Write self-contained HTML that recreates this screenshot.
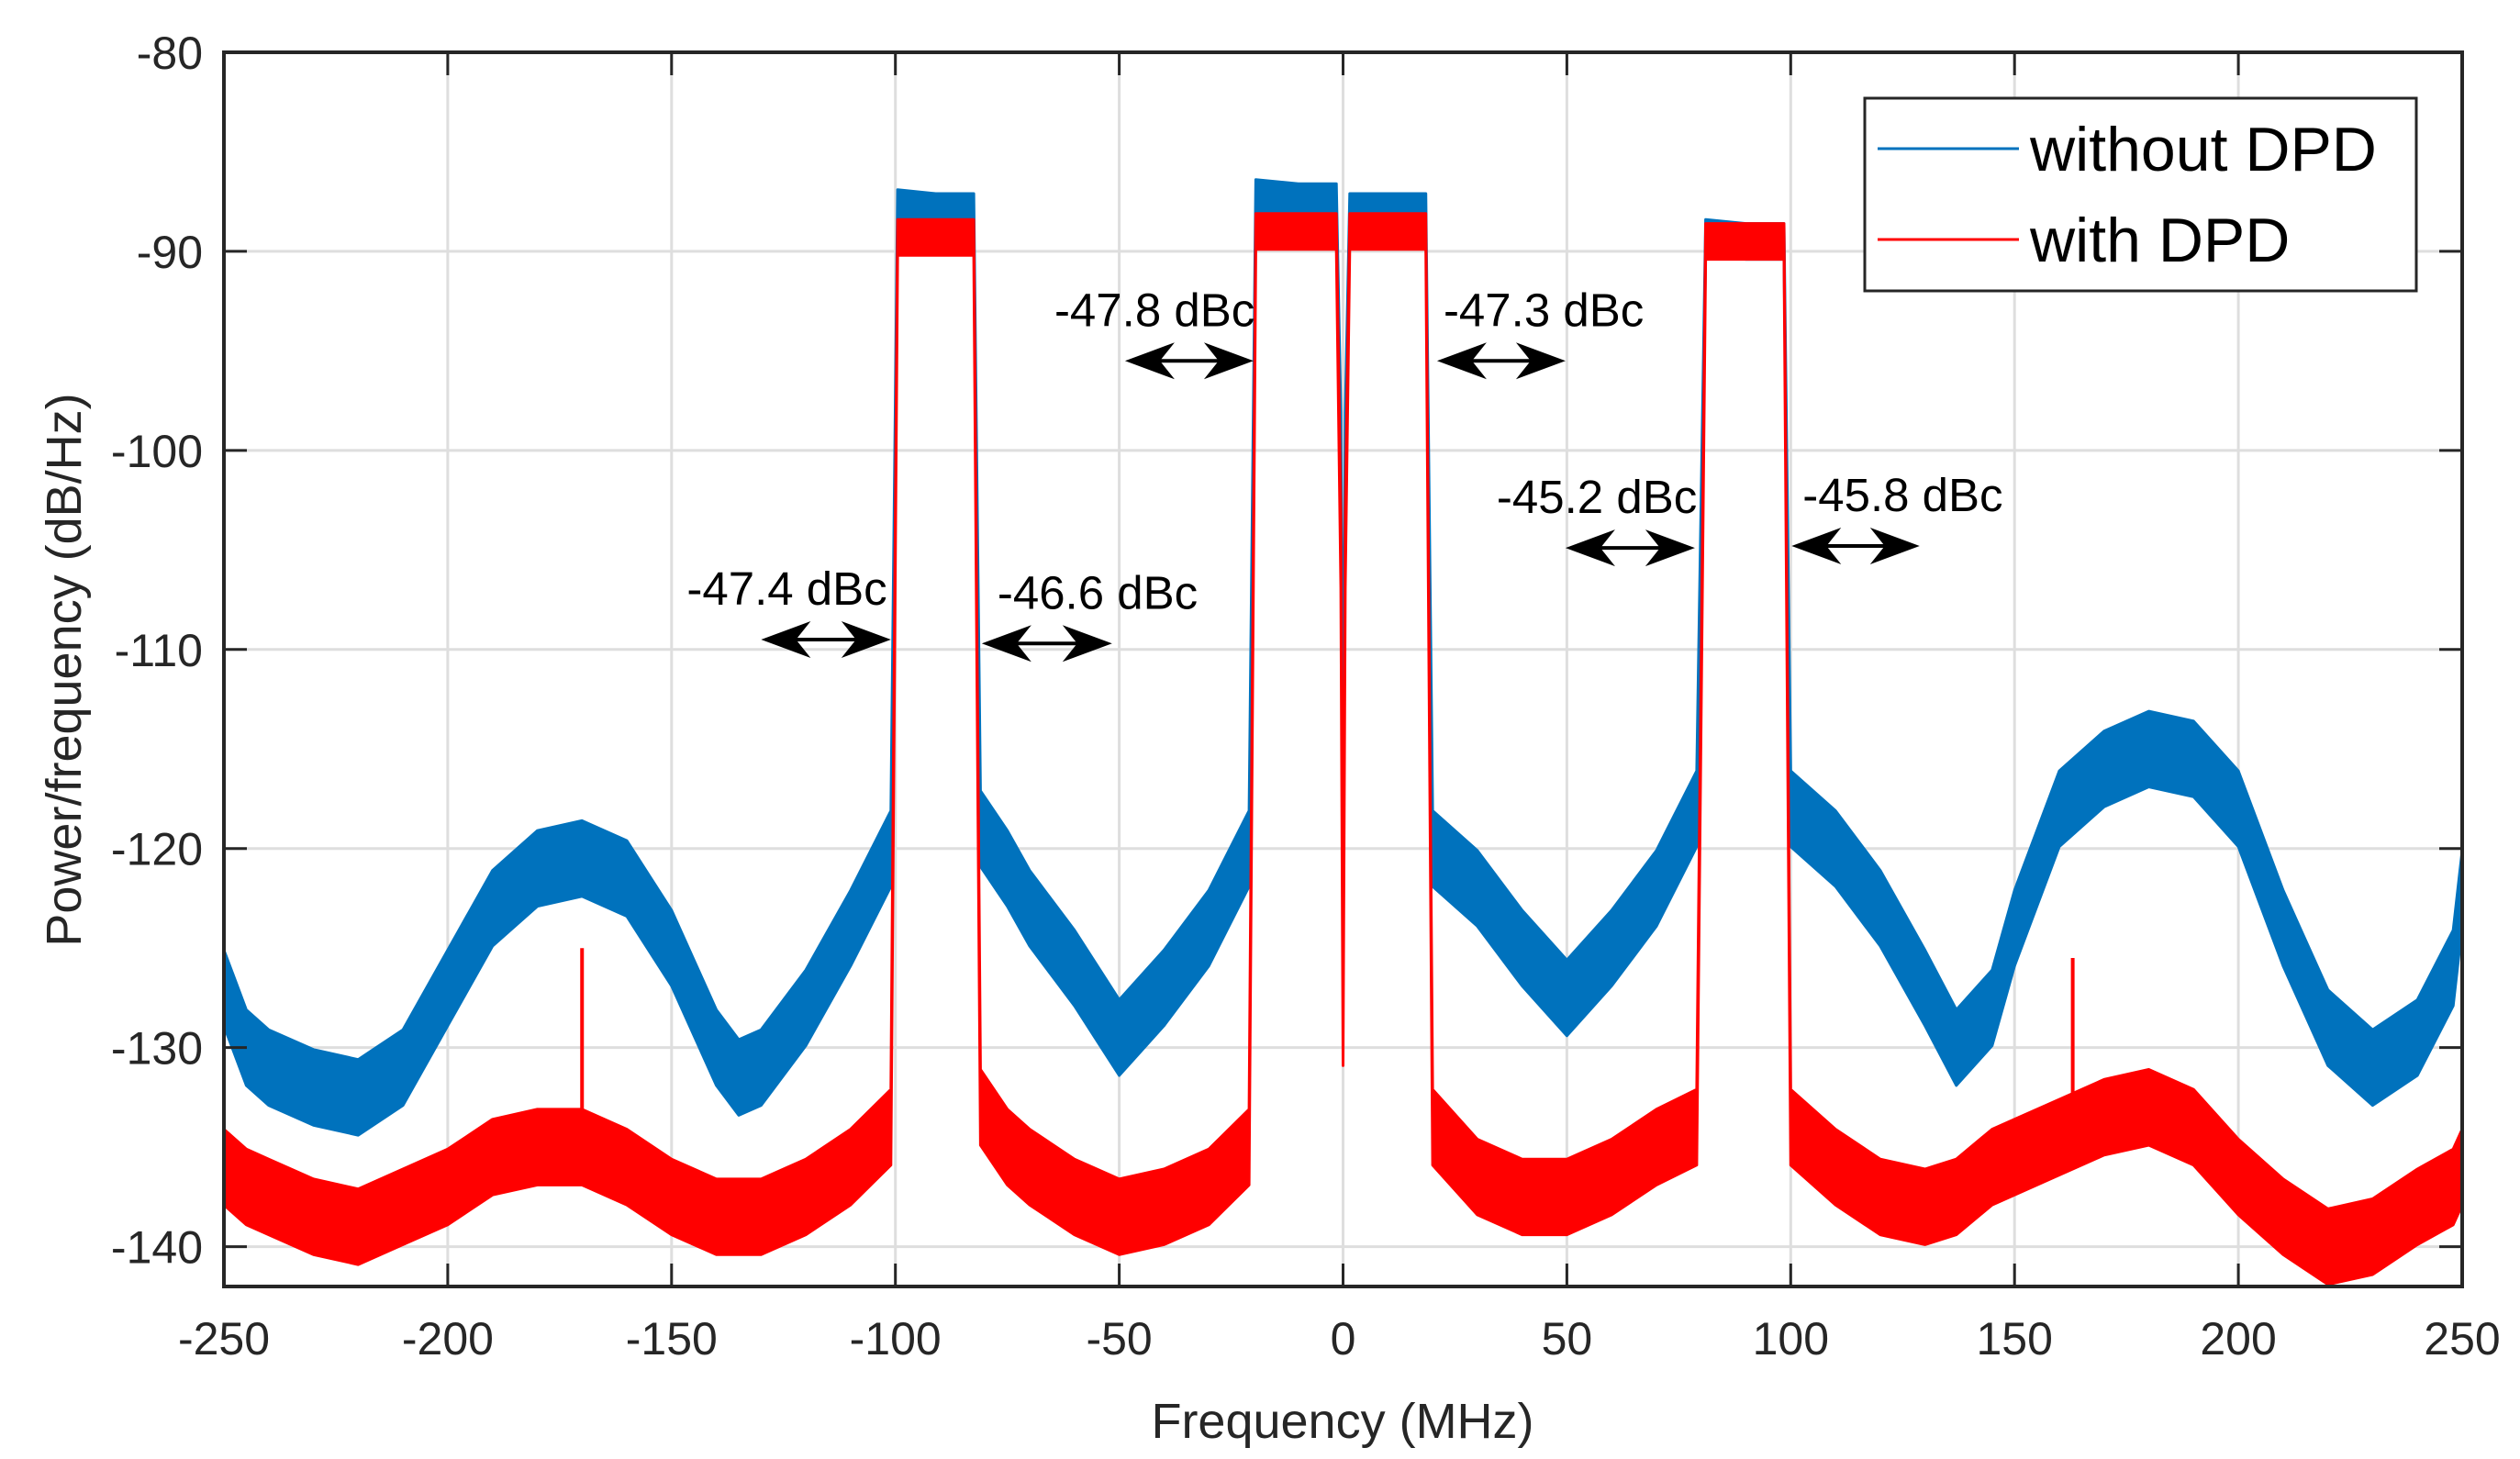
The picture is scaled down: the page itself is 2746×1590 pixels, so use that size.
<!DOCTYPE html>
<html><head><meta charset="utf-8"><style>
html,body{margin:0;padding:0;background:#fff;}
svg{display:block;font-family:"Liberation Sans",Arial,sans-serif;}
</style></head><body>
<svg id="chart" width="2746" height="1590" viewBox="0 0 2746 1590" xmlns="http://www.w3.org/2000/svg">
<rect x="0" y="0" width="2746" height="1590" fill="#fff"/>
<g id="grid"></g>
<g id="series"></g>
<g id="axes"></g>
<g id="annot"></g>
<text x="1463" y="1567" font-size="54" text-anchor="middle" fill="#262626">Frequency (MHz)</text>
<text transform="translate(88,730) rotate(-90)" font-size="54" text-anchor="middle" fill="#262626">Power/frequency (dB/Hz)</text>
<g>
<rect x="2032" y="107" width="601" height="210" fill="#fff" stroke="#262626" stroke-width="3"/>
<line x1="2046" y1="162" x2="2200" y2="162" stroke="#0072BD" stroke-width="3"/>
<text x="2212" y="186" font-size="68" fill="#000">without DPD</text>
<line x1="2046" y1="261" x2="2200" y2="261" stroke="#FF0000" stroke-width="3"/>
<text x="2212" y="285" font-size="68" fill="#000">with DPD</text>
</g>
</svg>
<script>
const freqs=[-250,-245,-240,-230,-220,-210,-200,-190,-180,-170,-160,-150,-140,-135,-130,-120,-110,-101,-99.5,-91,-82.5,-81,-75,-70,-60,-50,-40,-30,-21,-19.5,-10,-1.5,-0.5,0,0.5,1.5,10,18.5,20,30,40,50,60,70,79,81,90,98.5,100,110,120,130,137,145,150,160,170,180,190,200,210,220,230,240,248,250];
const withoutDPD=[-127,-130,-131,-132,-132.5,-131,-127,-123,-121,-120.5,-121.5,-125,-130,-131.5,-131,-128,-124,-120,-87.8,-88,-88,-119,-121,-123,-126,-129.5,-127,-124,-120,-87.3,-87.5,-87.5,-100,-118,-100,-88,-88,-88,-120,-122,-125,-127.5,-125,-122,-118,-89.3,-89.5,-89.5,-118,-120,-123,-127,-130,-128,-124,-118,-116,-115,-115.5,-118,-124,-129,-131,-129.5,-126,-122];
const withDPD=[-136,-137,-137.5,-138.5,-139,-138,-137,-135.5,-135,-135,-136,-137.5,-138.5,-138.5,-138.5,-137.5,-136,-134,-89.3,-89.3,-89.3,-133,-135,-136,-137.5,-138.5,-138,-137,-135,-89,-89,-89,-105,-129,-105,-89,-89,-89,-134,-136.5,-137.5,-137.5,-136.5,-135,-134,-89.5,-89.5,-89.5,-134,-136,-137.5,-138,-137.5,-136,-135.5,-134.5,-133.5,-133,-134,-136.5,-138.5,-140,-139.5,-138,-137,-136];
const redSpikeFreqs=[-250,-170,163,250];
const redSpikeVals=[-120,-125,-125.5,-114];
const blueSpikeFreqs=[-250,250];
const blueSpikeVals=[-117.5,-121];
const xTicks=[-250,-200,-150,-100,-50,0,50,100,150,200,250];
const yTicks=[-80,-90,-100,-110,-120,-130,-140];
const annLabels=["-47.4 dBc","-46.6 dBc","-47.8 dBc","-47.3 dBc","-45.2 dBc","-45.8 dBc"];
const annFrom=[-130,-80.7,-48.7,21,49.7,100.2];
const annTo=[-101,-51.6,-20,49.7,78.6,128.8];
const annLevel=[-109.5,-109.7,-95.5,-95.5,-104.9,-104.8];
const annTextShift=[-81,17,-77,7,-75,12];

const L=244,R=2683,T=57,B=1402,XMIN=-250,XMAX=250,YMAX=-80,YMIN=-142;
const X=v=>L+(v-XMIN)/(XMAX-XMIN)*(R-L);
const Y=v=>T+(YMAX-v)/(YMAX-YMIN)*(B-T);
const NS="http://www.w3.org/2000/svg";
function mk(tag,attrs,parent){const e=document.createElementNS(NS,tag);for(const k in attrs)e.setAttribute(k,attrs[k]);parent.appendChild(e);return e;}
const grid=document.getElementById('grid'),axes=document.getElementById('axes'),series=document.getElementById('series'),annot=document.getElementById('annot');

xTicks.forEach(t=>{
  const g=mk('line',{x1:X(t),x2:X(t),y1:T,y2:B,stroke:'#dedede','stroke-width':3},grid);
  
  
  const a=mk('line',{x1:X(t),x2:X(t),y1:B,y2:B-25,stroke:'#262626','stroke-width':3},axes);
  
  
  const b=mk('line',{x1:X(t),x2:X(t),y1:T,y2:T+25,stroke:'#262626','stroke-width':3},axes);
  
  
  const tx=mk('text',{x:X(t),y:1476,'font-size':50,'text-anchor':'middle',fill:'#262626'},axes);
  tx.textContent=t;
  
  
});
yTicks.forEach(t=>{
  const g=mk('line',{x1:L,x2:R,y1:Y(t),y2:Y(t),stroke:'#dedede','stroke-width':3},grid);
  
  
  const a=mk('line',{x1:L,x2:L+25,y1:Y(t),y2:Y(t),stroke:'#262626','stroke-width':3},axes);
  
  
  const b=mk('line',{x1:R,x2:R-25,y1:Y(t),y2:Y(t),stroke:'#262626','stroke-width':3},axes);
  
  
  const tx=mk('text',{x:221,y:Y(t)+18,'font-size':50,'text-anchor':'end',fill:'#262626'},axes);
  tx.textContent=t;
  
  
});
const frame=mk('rect',{x:L,y:T,width:R-L,height:B-T,fill:'none',stroke:'#262626','stroke-width':4},axes);



function band(vals,color,name){
  const spread=v=>v>-100?0.9:1.9;
  let up=[],lo=[];
  freqs.forEach((f,i)=>{up.push(X(f).toFixed(1)+','+Y(vals[i]+spread(vals[i])).toFixed(1));lo.push(X(f).toFixed(1)+','+Y(vals[i]-spread(vals[i])).toFixed(1));});
  const p=mk('polygon',{points:up.concat(lo.reverse()).join(' '),fill:color,stroke:color,'stroke-width':3,'stroke-linejoin':'round'},series);
  
  
}
band(withoutDPD,'#0072BD','series-without-dpd');
blueSpikeFreqs.forEach((f,i)=>{
  const c=mk('line',{x1:X(f),x2:X(f),y1:Y(blueSpikeVals[i]),y2:Y(-130),stroke:'#0072BD','stroke-width':4},series);
  
  
});
band(withDPD,'#FF0000','series-with-dpd');
redSpikeFreqs.forEach((f,i)=>{
  const c=mk('line',{x1:X(f),x2:X(f),y1:Y(redSpikeVals[i]),y2:Y(-136),stroke:'#FF0000','stroke-width':4},series);
  
  
});

annLabels.forEach((lab,i)=>{
  const x1=X(annFrom[i]),x2=X(annTo[i]),y=Y(annLevel[i]);
  const g=mk('g',{},annot);
  
  
  mk('line',{x1:x1+30,x2:x2-30,y1:y,y2:y,stroke:'#000','stroke-width':4},g);
  mk('polygon',{points:`${x1},${y} ${x1+54},${y-20} ${x1+38},${y} ${x1+54},${y+20}`,fill:'#000'},g);
  mk('polygon',{points:`${x2},${y} ${x2-54},${y-20} ${x2-38},${y} ${x2-54},${y+20}`,fill:'#000'},g);
  const t=mk('text',{x:x1+annTextShift[i],y:y-38,'font-size':51,fill:'#000'},g);
  t.textContent=lab;
  
  
});
</script>
</body></html>
